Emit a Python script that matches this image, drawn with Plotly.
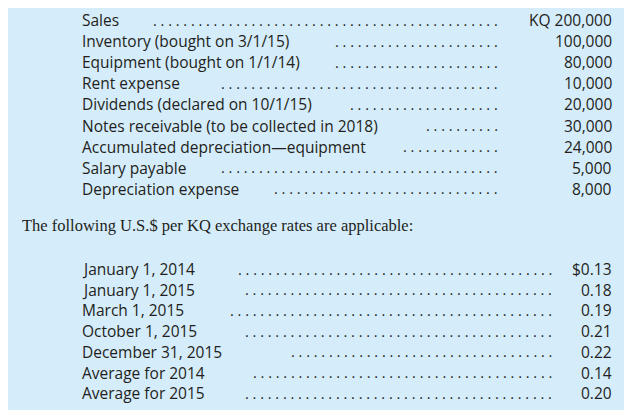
import plotly.graph_objects as go

W, H = 632, 410
items = ["Sales", "Inventory (bought on 3/1/15)", "Equipment (bought on 1/1/14)", "Rent expense",
         "Dividends (declared on 10/1/15)", "Notes receivable (to be collected in 2018)",
         "Accumulated depreciation\u2014equipment", "Salary payable", "Depreciation expense"]
amounts = ["KQ 200,000", "100,000", "80,000", "10,000", "20,000", "30,000", "24,000", "5,000", "8,000"]
heading = "The following U.S.$ per KQ exchange rates are applicable:"
dates = ["January 1, 2014", "January 1, 2015", "March 1, 2015", "October 1, 2015",
         "December 31, 2015", "Average for 2014", "Average for 2015"]
rates = ["$0.13", "0.18", "0.19", "0.21", "0.22", "0.14", "0.20"]

# layout (pixels)
item_y0, item_dy = 12, 21.1
item_dot_start = [132, 318, 320, 196, 336, 416, 390, 198, 252]
rate_y0, rate_dy = 261, 20.7
rate_dot_start = [218, 220, 208, 226, 266, 228, 220]

fig = go.Figure()
ann = []
font = dict(family="Open Sans", size=15.5, color="#231f20")

def px(x, y):
    return x / W, 1 - y / H

def row(label, val, y, dstart, dend):
    x, yy = px(72, y)
    ann.append(dict(x=x, y=yy, text=label, xanchor="left", yanchor="middle", font=font))
    x, yy = px(606, y)
    ann.append(dict(x=x, y=yy, text=val, xanchor="right", yanchor="middle", font=font))
    n = max(1, int(round((dend - dstart) / 7.9)))
    x, yy = px(dend, y)
    ann.append(dict(x=x, y=yy, text=" .".join([""] * (n + 1)).strip(), xanchor="right",
                    yanchor="middle", font=dict(family="Open Sans", size=14.5, color="#231f20")))

for i, (l, v) in enumerate(zip(items, amounts)):
    row(l, v, item_y0 + i * item_dy, item_dot_start[i], 492)
for i, (l, v) in enumerate(zip(dates, rates)):
    row(l, v, rate_y0 + i * rate_dy, rate_dot_start[i], 546)

x, yy = px(12, 217)
ann.append(dict(x=x, y=yy, text=heading, xanchor="left", yanchor="middle",
                font=dict(family="Liberation Serif", size=16.5, color="#231f20")))

for a in ann:
    a.update(xref="paper", yref="paper", showarrow=False)

fig.update_layout(width=W, height=H, margin=dict(l=0, r=0, t=0, b=0),
                  paper_bgcolor="#d5ecfb", plot_bgcolor="#d5ecfb",
                  xaxis=dict(visible=False), yaxis=dict(visible=False),
                  annotations=ann, showlegend=False)
fig.write_html("out.html")
